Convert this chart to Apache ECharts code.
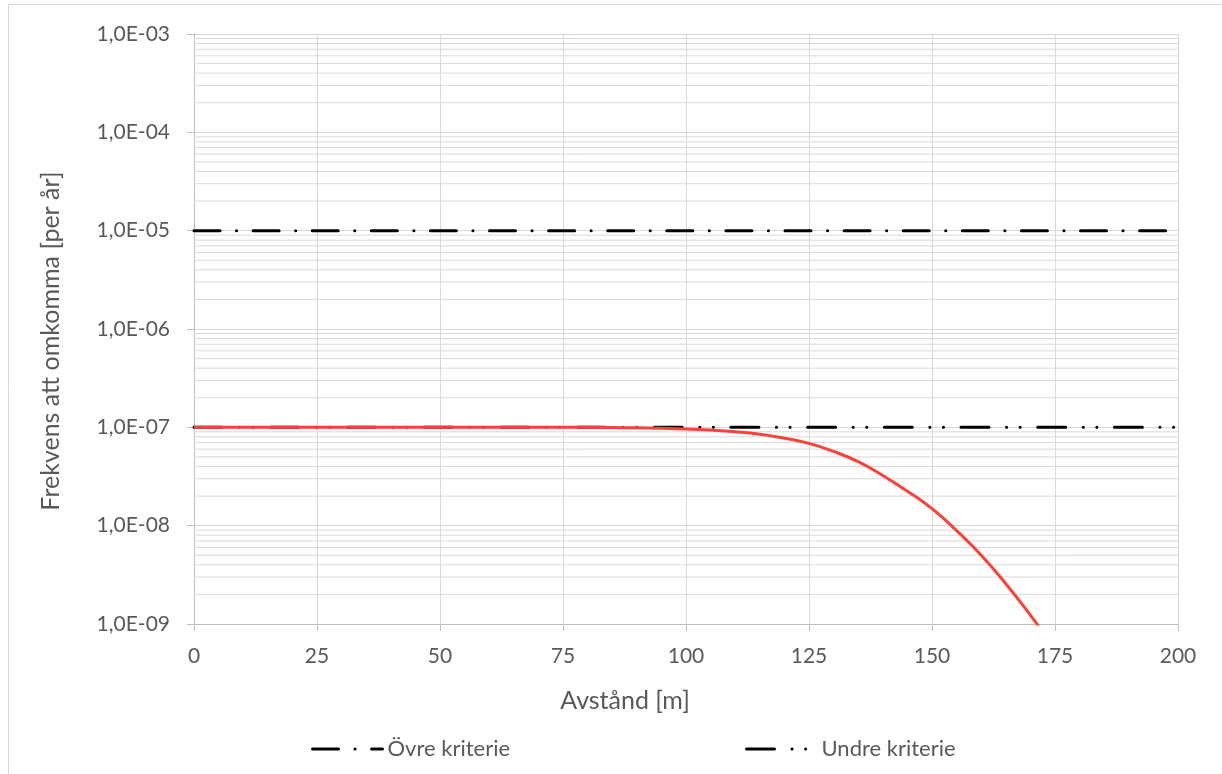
<!DOCTYPE html>
<html>
<head>
<meta charset="utf-8">
<script src="https://cdn.jsdelivr.net/npm/echarts@6/dist/echarts.min.js"></script>
<style>
html,body{margin:0;padding:0;background:#fff;}
#chart{width:1222px;height:774px;}
</style>
</head>
<body>
<div id="chart"></div>
<script>
// ---- data ----
const criteriaX = [0, 200];
const ovreKriterie = [1e-5, 1e-5];
const undreKriterie = [1e-7, 1e-7];
const riskX = [0,5,10,15,20,25,30,35,40,45,50,55,60,65,70,75,80,85,90,95,100,105,110,115,120,125,130,135,140,145,150,155,160,165,170,175];
const riskY = [1e-7,1e-7,1e-7,1e-7,1e-7,1e-7,1e-7,1e-7,1e-7,1e-7,1e-7,1e-7,1e-7,1e-7,1e-7,1e-7,1e-7,
  9.95e-8,9.89e-8,9.79e-8,9.64e-8,9.38e-8,9.02e-8,8.51e-8,7.76e-8,6.87e-8,5.69e-8,4.47e-8,3.24e-8,2.24e-8,1.49e-8,8.91e-9,5.01e-9,2.57e-9,1.23e-9,5.5e-10];
const xTicks = [0,25,50,75,100,125,150,175,200];
const yTickValues = [1e-9,1e-8,1e-7,1e-6,1e-5,1e-4,1e-3];
const yTickLabels = ['1,0E-09','1,0E-08','1,0E-07','1,0E-06','1,0E-05','1,0E-04','1,0E-03'];
const seriesNames = ['Övre kriterie','Undre kriterie','Risk'];
const xTitle = 'Avstånd [m]';
const yTitle = 'Frekvens att omkomma [per år]';

// minor log gridlines (2..9 within each decade), drawn as broken horizontal segments
const minorGrid = [];
for (let e = -9; e < -3; e++) {
  for (let k = 2; k <= 9; k++) {
    const v = k * Math.pow(10, e);
    minorGrid.push([0, v], [200, v], [200, '-']);
  }
}

const FONT = 'Lato';
const TXT = '#595959';
const GRID = '#d9d9d9';
const AXIS = '#bfbfbf';
const OVRE_DASH = [26, 16.5, 0.1, 16.5];
const UNDRE_DASH = [28, 17.5, 0.1, 13.5, 0.1, 17.5];

const chart = echarts.init(document.getElementById('chart'), null, { renderer: 'canvas' });
const pairs = (xs, ys) => xs.map((x, i) => [x, ys[i]]);

const legendBase = {
  top: 738, padding: 0, itemWidth: 70, itemHeight: 14, itemGap: 0,
  itemStyle: { opacity: 0 },
  textStyle: { color: TXT, fontSize: 22, fontFamily: FONT }
};

chart.setOption({
  animation: false,
  backgroundColor: '#fff',
  textStyle: { fontFamily: FONT },
  grid: { left: 194, right: 44, top: 34, bottom: 150, containLabel: false },
  graphic: [
    { type: 'rect', silent: true, z: -10,
      shape: { x: 8.5, y: 4.5, width: 1400, height: 1000 },
      style: { fill: null, stroke: GRID, lineWidth: 1 } },
    { type: 'text', silent: true, x: 625, y: 701,
      style: { text: xTitle, font: '25px ' + FONT, fill: TXT, align: 'center', verticalAlign: 'middle' } },
    { type: 'text', silent: true, x: 51, y: 341, rotation: Math.PI / 2,
      style: { text: yTitle, font: '25px ' + FONT, fill: TXT, align: 'center', verticalAlign: 'middle' } }
  ],
  legend: [
    Object.assign({}, legendBase, { data: [seriesNames[0]], left: 311,
      lineStyle: { color: '#000', width: 3, type: OVRE_DASH, cap: 'round' } }),
    Object.assign({}, legendBase, { data: [seriesNames[1]], left: 745,
      lineStyle: { color: '#000', width: 3, type: UNDRE_DASH, cap: 'round' } })
  ],
  xAxis: {
    type: 'value', min: 0, max: 200, interval: 25,
    axisLine: { show: true, onZero: false, lineStyle: { color: AXIS, width: 1 } },
    axisTick: { show: true, inside: false, length: 7, lineStyle: { color: AXIS } },
    splitLine: { show: true, lineStyle: { color: GRID, width: 1 } },
    axisLabel: { color: TXT, fontSize: 21, fontFamily: FONT, margin: 22,
      formatter: v => (xTicks.indexOf(v) >= 0 ? String(v) : '') }
  },
  yAxis: {
    type: 'log', logBase: 10, min: 1e-9, max: 1e-3, interval: 1,
    axisLine: { show: true, lineStyle: { color: AXIS, width: 1 } },
    axisTick: { show: true, inside: false, length: 7, lineStyle: { color: AXIS } },
    splitLine: { show: true, lineStyle: { color: GRID, width: 1 } },
    axisLabel: { color: TXT, fontSize: 21, fontFamily: FONT, margin: 24,
      formatter: v => {
        let best = 0, bd = Infinity;
        yTickValues.forEach((t, i) => { const d = Math.abs(Math.log10(t) - Math.log10(v)); if (d < bd) { bd = d; best = i; } });
        return yTickLabels[best];
      } }
  },
  series: [
    { name: 'minorGrid', type: 'line', data: minorGrid, z: 1, silent: true,
      symbol: 'none', showSymbol: false, connectNulls: false,
      lineStyle: { color: GRID, width: 1 }, emphasis: { disabled: true } },
    { name: seriesNames[0], type: 'line', data: pairs(criteriaX, ovreKriterie), z: 3,
      symbol: 'none', showSymbol: false, color: '#000',
      lineStyle: { color: '#000', width: 3, type: OVRE_DASH, cap: 'round' } },
    { name: seriesNames[1], type: 'line', data: pairs(criteriaX, undreKriterie), z: 3,
      symbol: 'none', showSymbol: false, color: '#000',
      lineStyle: { color: '#000', width: 3, type: UNDRE_DASH, cap: 'round' } },
    { name: seriesNames[2], type: 'line', data: pairs(riskX, riskY), z: 4,
      symbol: 'none', showSymbol: false, smooth: 0.5, color: '#f9423a',
      lineStyle: { color: '#f9423a', width: 3 } }
  ]
});
</script>
</body>
</html>
